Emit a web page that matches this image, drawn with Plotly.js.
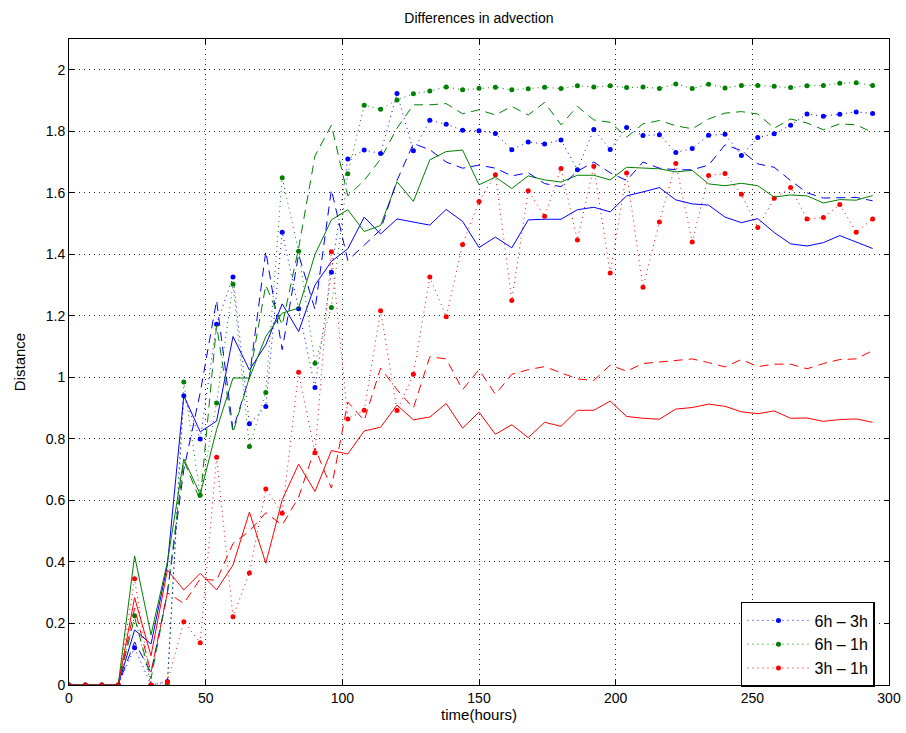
<!DOCTYPE html>
<html>
<head>
<meta charset="utf-8">
<script src="https://cdn.plot.ly/plotly-3.0.1.min.js"></script>
<style>html,body{margin:0;padding:0;background:#fff;}#chart{width:906px;height:733px;}</style>
</head>
<body>
<div id="chart"></div>
<script>
var timeHours = [0,6,12,18,24,30,36,42,48,54,60,66,72,78,84,90,96,102,108,114,120,126,132,138,144,150,156,162,168,174,180,186,192,198,204,210,216,222,228,234,240,246,252,258,264,270,276,282,288,294];

var b_dot = [0,0,0,0,0.121,0.0,0.011,0.94,0.80,1.173,1.326,0.849,0.905,1.472,1.223,0.967,1.342,1.71,1.739,1.728,1.923,1.737,1.836,1.823,1.803,1.802,1.793,1.74,1.765,1.759,1.772,1.675,1.806,1.741,1.812,1.786,1.789,1.731,1.744,1.787,1.79,1.721,1.78,1.792,1.82,1.856,1.849,1.855,1.863,1.858];
var g_dot = [0,0,0,0,0.225,0,0.0,0.985,0.617,0.917,1.303,0.775,0.951,1.649,1.41,1.046,1.227,1.662,1.885,1.872,1.902,1.922,1.931,1.944,1.935,1.94,1.943,1.935,1.938,1.943,1.939,1.948,1.944,1.948,1.942,1.944,1.939,1.954,1.939,1.953,1.941,1.949,1.949,1.946,1.942,1.948,1.949,1.956,1.958,1.949];
var r_dot = [0,0,0,0,0.345,0,0.01,0.206,0.137,0.74,0.222,0.364,0.637,0.558,1.017,0.755,1.408,0.865,0.893,1.217,0.892,1.01,1.326,1.197,1.432,1.572,1.659,1.25,1.607,1.524,1.679,1.447,1.686,1.339,1.664,1.293,1.505,1.695,1.44,1.656,1.663,1.595,1.487,1.582,1.617,1.515,1.52,1.562,1.472,1.515];

var b_sol = [0,0,0,0,0.179,0.133,0.39,0.94,0.823,0.858,1.133,1.024,1.106,1.239,1.149,1.30,1.377,1.418,1.521,1.466,1.515,1.505,1.495,1.546,1.507,1.422,1.456,1.421,1.512,1.514,1.514,1.545,1.553,1.538,1.59,1.603,1.617,1.577,1.564,1.56,1.521,1.503,1.516,1.471,1.434,1.427,1.438,1.461,1.441,1.419];
var g_sol = [0,0,0,0,0.42,0.163,0.40,0.735,0.62,0.83,0.998,0.998,1.133,1.209,1.225,1.40,1.512,1.545,1.474,1.494,1.636,1.572,1.707,1.734,1.739,1.626,1.651,1.614,1.655,1.642,1.635,1.657,1.657,1.642,1.683,1.68,1.678,1.668,1.673,1.629,1.623,1.631,1.623,1.586,1.593,1.59,1.567,1.578,1.576,1.591];
var r_sol = [0,0,0,0,0.284,0.095,0.374,0.309,0.363,0.309,0.39,0.562,0.396,0.602,0.718,0.629,0.762,0.751,0.826,0.838,0.91,0.862,0.871,0.915,0.835,0.887,0.815,0.846,0.804,0.854,0.841,0.893,0.893,0.923,0.873,0.867,0.864,0.897,0.902,0.913,0.906,0.888,0.882,0.891,0.867,0.868,0.857,0.863,0.865,0.854];

var b_dash = [0,0,0,0,0.14,0.04,0.30,0.70,0.95,1.25,0.83,1.0,1.41,1.09,1.40,1.22,1.61,1.38,1.43,1.48,1.64,1.76,1.74,1.70,1.68,1.69,1.68,1.655,1.665,1.63,1.62,1.67,1.70,1.665,1.64,1.70,1.68,1.675,1.675,1.69,1.756,1.737,1.694,1.683,1.64,1.60,1.583,1.585,1.585,1.574];
var g_dash = [0,0,0,0,0.22,0.02,0.30,0.73,0.60,1.17,0.82,1.0,1.30,1.17,1.42,1.72,1.82,1.59,1.64,1.71,1.81,1.886,1.886,1.89,1.857,1.87,1.853,1.881,1.853,1.894,1.821,1.881,1.837,1.829,1.781,1.824,1.835,1.818,1.808,1.84,1.859,1.864,1.856,1.81,1.84,1.827,1.805,1.824,1.821,1.796];
var r_dash = [0,0,0,0,0.25,0.04,0.30,0.265,0.345,0.34,0.46,0.50,0.56,0.52,0.61,0.77,0.64,0.92,0.86,1.03,0.96,0.90,1.067,1.06,0.96,1.025,0.945,1.01,1.025,1.035,1.015,0.995,0.99,1.04,1.02,1.045,1.05,1.055,1.06,1.048,1.034,1.058,1.035,1.043,1.043,1.028,1.045,1.058,1.06,1.087];

var seriesNames = ['6h \u2013 3h', '6h \u2013 1h', '3h \u2013 1h'];
var colors = ['rgb(0,0,255)', 'rgb(0,128,0)', 'rgb(255,0,0)'];
var fam = 'Liberation Sans, Arial, sans-serif';

function dotted(y, i) {
  return {x: timeHours, y: y, type: 'scatter', mode: 'lines+markers', name: seriesNames[i],
    line: {color: colors[i], width: 1, dash: '1px,4px'},
    marker: {color: colors[i], size: 5, symbol: 'circle'}, showlegend: true};
}
function styled(y, i, dash) {
  return {x: timeHours, y: y, type: 'scatter', mode: 'lines', name: seriesNames[i],
    line: {color: colors[i], width: 1, dash: dash}, showlegend: false, hoverinfo: 'skip'};
}

var data = [
  dotted(b_dot, 0), dotted(g_dot, 1), dotted(r_dot, 2),
  styled(b_sol, 0, 'solid'), styled(g_sol, 1, 'solid'), styled(r_sol, 2, 'solid'),
  styled(b_dash, 0, '9px,6px'), styled(g_dash, 1, '9px,6px'), styled(r_dash, 2, '9px,6px')
];

var axisCommon = {
  showline: true, linecolor: '#000', linewidth: 1, mirror: 'allticks',
  ticks: 'inside', ticklen: 5, tickcolor: '#000', tickwidth: 1,
  showgrid: true, gridcolor: '#222', gridwidth: 1, griddash: '1px,4px',
  zeroline: false, tickfont: {family: fam, size: 14, color: '#000'}
};

var layout = {
  width: 906, height: 733,
  margin: {l: 69, r: 17, t: 39, b: 48, pad: 0},
  paper_bgcolor: '#fff', plot_bgcolor: '#fff',
  title: {text: 'Differences in advection', x: 0.5286, xref: 'container', y: 0.975, yref: 'container', yanchor: 'middle',
    font: {family: fam, size: 14, color: '#000'}},
  xaxis: Object.assign({}, axisCommon, {range: [0, 300], tickvals: [0,50,100,150,200,250,300],
    title: {text: 'time(hours)', standoff: 4, font: {family: fam, size: 15, color: '#000'}}}),
  yaxis: Object.assign({}, axisCommon, {range: [0, 2.1], tickvals: [0,0.2,0.4,0.6,0.8,1,1.2,1.4,1.6,1.8,2],
    ticktext: ['0','0.2','0.4','0.6','0.8','1','1.2','1.4','1.6','1.8','2'],
    title: {text: 'Distance', standoff: 16, font: {family: fam, size: 15, color: '#000'}}}),
  showlegend: true,
  legend: {x: 0.8195, y: 0.1285, xanchor: 'left', yanchor: 'top', bgcolor: '#fff', bordercolor: '#000', borderwidth: 1.5,
    font: {family: fam, size: 16, color: '#000'}, itemwidth: 62, tracegroupgap: 0},
  hovermode: false
};

Plotly.newPlot('chart', data, layout, {displayModeBar: false, staticPlot: true});
</script>
</body>
</html>
